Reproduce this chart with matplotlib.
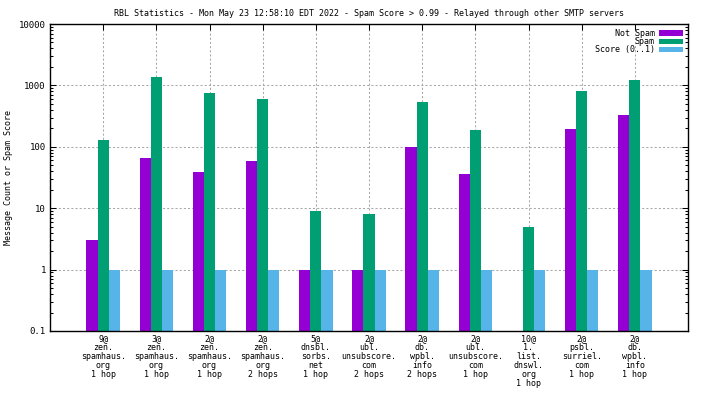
import matplotlib
matplotlib.use("Agg")
import matplotlib.pyplot as plt
import numpy as np

# data
groups = [
    "9@\nzen.\nspamhaus.\norg\n1 hop",
    "3@\nzen.\nspamhaus.\norg\n1 hop",
    "2@\nzen.\nspamhaus.\norg\n1 hop",
    "2@\nzen.\nspamhaus.\norg\n2 hops",
    "5@\ndnsbl.\nsorbs.\nnet\n1 hop",
    "2@\nubl.\nunsubscore.\ncom\n2 hops",
    "2@\ndb.\nwpbl.\ninfo\n2 hops",
    "2@\nubl.\nunsubscore.\ncom\n1 hop",
    "10@\n1.\nlist.\ndnswl.\norg\n1 hop",
    "2@\npsbl.\nsurriel.\ncom\n1 hop",
    "2@\ndb.\nwpbl.\ninfo\n1 hop",
]
not_spam = [3, 65, 39, 58, 1, 1, 100, 36, 0, 195, 325]
spam = [128, 1394, 739, 591, 9, 8, 528, 186, 5, 796, 1247]
score = [1, 1, 1, 1, 1, 1, 1, 1, 1, 1, 1]

title = "RBL Statistics - Mon May 23 12:58:10 EDT 2022 - Spam Score > 0.99 - Relayed through other SMTP servers"

plt.rcParams["font.family"] = ["DejaVu Sans Mono"]

fig = plt.figure(figsize=(7.04, 3.96), dpi=100)
ax = fig.add_axes([50 / 704, 1 - 331 / 396, 638 / 704, 307 / 396])

x = np.arange(len(groups))
w = 0.21
ax.bar(x - w, not_spam, w, color="#9400d3", label="Not Spam")
ax.bar(x, spam, w, color="#009e73", label="Spam")
ax.bar(x + w, score, w, color="#56b4e9", label="Score (0..1)")

ax.set_yscale("log")
ax.set_ylim(0.1, 10000)
ax.set_xlim(-1, 11)
ax.set_yticks([0.1, 1, 10, 100, 1000, 10000])
ax.set_yticklabels(["0.1", "1", "10", "100", "1000", "10000"], fontsize=6.5)
ax.set_xticks(x)
ax.set_xticklabels(groups, fontsize=6, linespacing=1.0)

ax.set_axisbelow(True)
ax.grid(True, which="major", color="#a8a8a8", linestyle=(0, (2, 2)), linewidth=0.75)
ax.tick_params(which="both", direction="in", top=True, right=True, width=0.75)
ax.tick_params(which="major", length=4, pad=3)
ax.tick_params(which="minor", length=2)
ax.tick_params(axis="x", pad=2)
for s in ax.spines.values():
    s.set_linewidth(1.0)

ax.set_ylabel("Message Count or Spam Score", fontsize=6, labelpad=4)
ax.set_title(title, fontsize=6, pad=6)

ax.legend(loc="upper right", frameon=False, fontsize=6, markerfirst=False,
          handlelength=2.9, handleheight=0.6, labelspacing=-0.1,
          handletextpad=0.5, borderaxespad=0.2)

fig.savefig("out.png", dpi=100)
